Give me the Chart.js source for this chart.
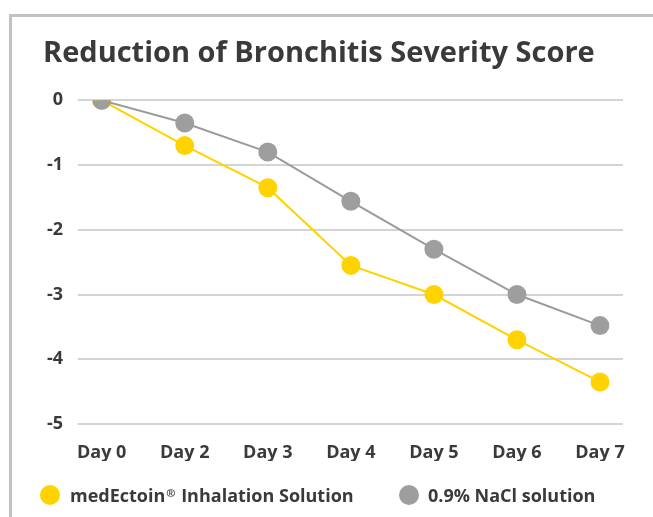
<!DOCTYPE html>
<html>
<head>
<meta charset="utf-8">
<script src="https://cdn.jsdelivr.net/npm/chart.js@4"></script>
<style>
  body { margin: 0; background: #fff; font-family: "Open Sans", sans-serif; }
  #wrap { position: relative; width: 653px; height: 517px; overflow: hidden; }
  #frame { position: absolute; left: 9px; top: 14px; width: 700px; height: 600px;
           border-top: 3px solid #c2c2c2; border-left: 3px solid #c2c2c2; }
  canvas { position: absolute; left: 0; top: 0; }
  .leg { position: absolute; top: 484px; height: 21px; display: flex; align-items: center;
         font-weight: 700; font-size: 18px; color: #3a3a3a; white-space: nowrap; }
  .leg sup { font-size: 11px; position: relative; top: -2px; margin: 0 1px 0 1px; }
  .dot { width: 20px; height: 20px; border-radius: 50%; }
</style>
</head>
<body>
<div id="wrap">
  <div id="frame"></div>
  <canvas id="chart" width="653" height="517"></canvas>
  <div class="leg" style="left:40px"><span class="dot" style="background:#ffd200;margin-right:10px"></span>medEctoin<sup>®</sup>&nbsp;Inhalation Solution</div>
  <div class="leg" style="left:399px"><span class="dot" style="background:#9e9e9e;margin-right:9px"></span>0.9% NaCl solution</div>
</div>
<script>
// chart values
const days = ["Day 0", "Day 2", "Day 3", "Day 4", "Day 5", "Day 6", "Day 7"];
const medEctoin = [0, -0.7, -1.35, -2.55, -3.0, -3.7, -4.35];
const nacl = [0, -0.35, -0.8, -1.56, -2.3, -3.0, -3.48];
const yTicks = [0, -1, -2, -3, -4, -5];

const textColor = "#3a3a3a";

// horizontal grid lines that run a bit past the plot area, like the original
const wideGrid = {
  id: "wideGrid",
  beforeDatasetsDraw(chart) {
    const { ctx, chartArea, scales } = chart;
    ctx.save();
    ctx.strokeStyle = "#d4d4d4";
    ctx.lineWidth = 2;
    yTicks.forEach(v => {
      const y = Math.round(scales.y.getPixelForValue(v));
      ctx.beginPath();
      ctx.moveTo(chartArea.left - 24, y);
      ctx.lineTo(chartArea.right + 23, y);
      ctx.stroke();
    });
    ctx.restore();
  }
};

new Chart(document.getElementById("chart"), {
  type: "line",
  data: {
    labels: days,
    datasets: [
      // gray first so it sits on top of the yellow one
      { label: "0.9% NaCl solution", data: nacl, borderColor: "#9b9b9b", backgroundColor: "#9e9e9e",
        borderWidth: 2, pointRadius: 9.5, pointBorderWidth: 0, pointHoverRadius: 9.5 },
      { label: "medEctoin® Inhalation Solution", data: medEctoin, borderColor: "#ffd200", backgroundColor: "#ffd200",
        borderWidth: 2, pointRadius: 9.5, pointBorderWidth: 0, pointHoverRadius: 9.5 }
    ]
  },
  options: {
    responsive: false,
    animation: false,
    layout: { padding: { left: 43, right: 53, top: 0, bottom: 56 } },
    plugins: {
      legend: { display: false },
      tooltip: { enabled: false },
      title: {
        display: true,
        text: "Reduction of Bronchitis Severity Score",
        align: "start",
        color: textColor,
        font: { family: "Open Sans", size: 29, weight: "bold" },
        padding: { top: 36.5, bottom: 29 }
      }
    },
    scales: {
      x: {
        offset: false,
        afterFit: s => { s.height = 37; },
        grid: { display: false, drawTicks: false },
        border: { display: false },
        ticks: { color: textColor, padding: 18, maxRotation: 0, font: { family: "Open Sans", size: 18, weight: "bold" } }
      },
      y: {
        min: -5, max: 0,
        afterBuildTicks: s => { s.ticks = yTicks.map(v => ({ value: v })); },
        afterFit: s => { s.width = 58.7; },
        grid: { display: false, drawTicks: false },
        border: { display: false },
        ticks: { color: textColor, padding: 38.7, font: { family: "Open Sans", size: 18, weight: "bold" } }
      }
    }
  },
  plugins: [wideGrid]
});
</script>
</body>
</html>
